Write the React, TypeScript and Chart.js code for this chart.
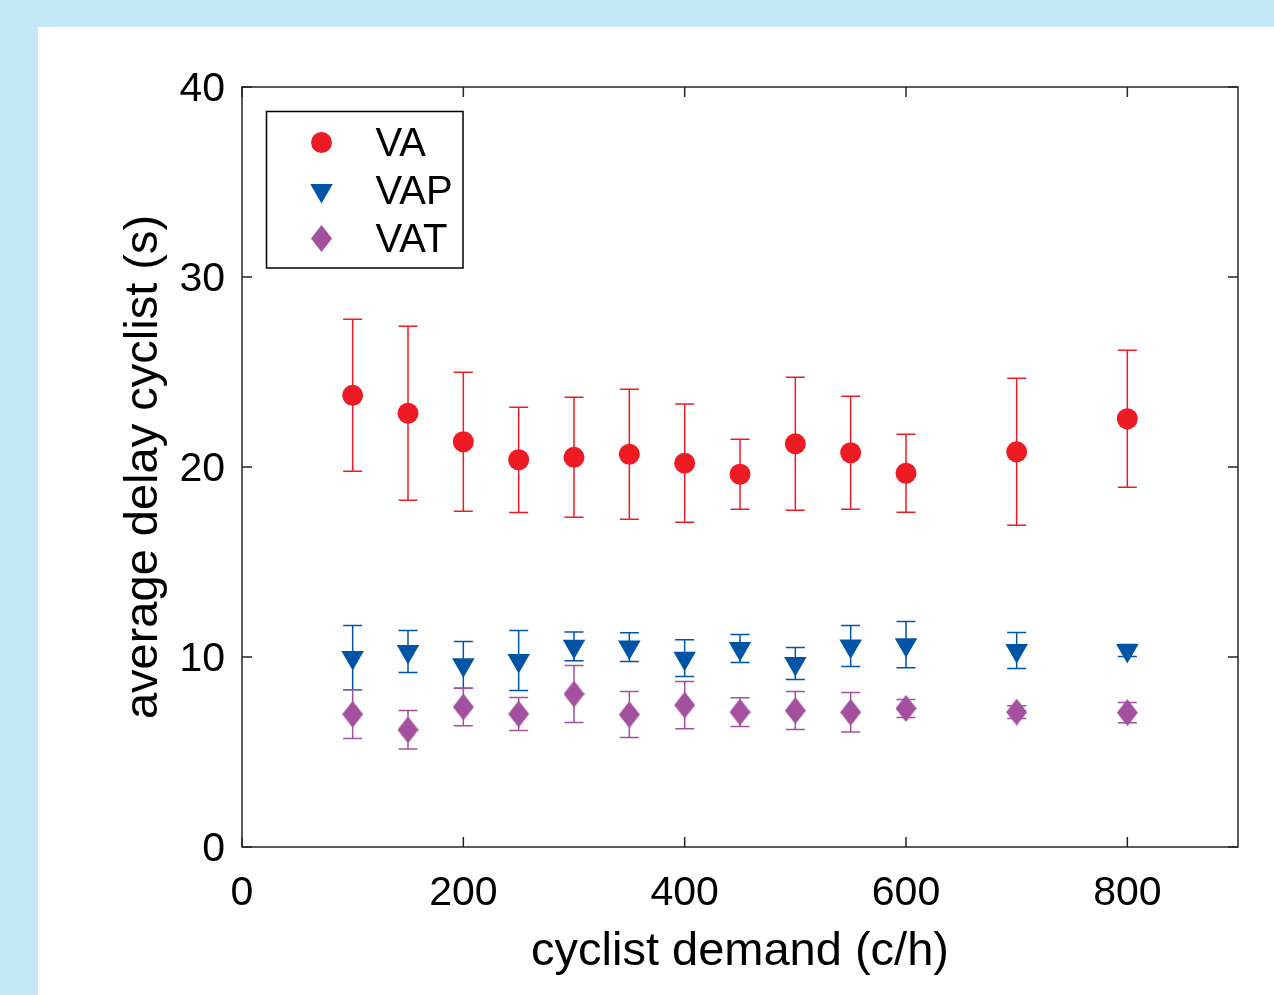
import React, { useEffect, useRef } from "react";
import { Chart, registerables } from "chart.js";

Chart.register(...registerables);

// ---------------- data ----------------
const demand = [100, 150, 200, 250, 300, 350, 400, 450, 500, 550, 600, 700, 800];

const vaMean = [23.77, 22.83, 21.33, 20.38, 20.51, 20.67, 20.2, 19.62, 21.22, 20.75, 19.67, 20.8, 22.54];
const vaErr = [4.0, 4.58, 3.66, 2.77, 3.16, 3.42, 3.11, 1.84, 3.5, 2.98, 2.05, 3.87, 3.61];

const vapMean = [9.97, 10.29, 9.59, 9.82, 10.56, 10.52, 9.94, 10.45, 9.66, 10.58, 10.65, 10.34, 10.34];
const vapErr = [1.69, 1.11, 1.23, 1.58, 0.76, 0.76, 0.97, 0.74, 0.84, 1.08, 1.22, 0.95, 0.32];

const vatMean = [6.99, 6.17, 7.37, 7.0, 8.05, 6.97, 7.47, 7.1, 7.18, 7.09, 7.29, 7.1, 7.07];
const vatErr = [1.28, 1.01, 0.99, 0.87, 1.5, 1.21, 1.24, 0.76, 1.0, 1.04, 0.47, 0.34, 0.53];

const seriesLabels = ["VA", "VAP", "VAT"];
const xAxisTitle = "cyclist demand (c/h)";
const yAxisTitle = "average delay cyclist (s)";

// ---------------- styles ----------------
const RED = "#ed1c24";
const BLUE = "#0054a6";
const PURPLE = "#a3519f";
const AXIS = "#262626";
const FONT = "'Liberation Sans', Arial, Helvetica, sans-serif";

function makeDiamond(color: string, w: number, h: number) {
  const c = document.createElement("canvas");
  c.width = w;
  c.height = h;
  const g = c.getContext("2d")!;
  g.fillStyle = color;
  g.beginPath();
  g.moveTo(w / 2, 0);
  g.lineTo(w, h / 2);
  g.lineTo(w / 2, h);
  g.lineTo(0, h / 2);
  g.closePath();
  g.fill();
  return c;
}

function drawMarker(ctx: CanvasRenderingContext2D, kind: string, x: number, y: number, color: string, diamond?: HTMLCanvasElement) {
  ctx.save();
  ctx.fillStyle = color;
  if (kind === "circle") {
    ctx.beginPath();
    ctx.arc(x, y, 10.5, 0, Math.PI * 2);
    ctx.fill();
  } else if (kind === "tri") {
    const r = 13;
    ctx.beginPath();
    ctx.moveTo(x, y + r);
    ctx.lineTo(x - r * Math.sin(Math.PI / 3), y - r / 2);
    ctx.lineTo(x + r * Math.sin(Math.PI / 3), y - r / 2);
    ctx.closePath();
    ctx.fill();
  } else if (diamond) {
    ctx.drawImage(diamond, x - diamond.width / 2, y - diamond.height / 2);
  }
  ctx.restore();
}

export default function App() {
  const ref = useRef<HTMLCanvasElement | null>(null);

  useEffect(() => {
    if (!ref.current) return;
    const diamond = makeDiamond(PURPLE, 21, 27);

    const errorBars = {
      id: "errorBars",
      beforeDatasetsDraw(chart: any) {
        const { ctx } = chart;
        const xs = chart.scales.x;
        const ys = chart.scales.y;
        ctx.save();
        chart.data.datasets.forEach((ds: any) => {
          const errs: number[] = ds.errors;
          if (!errs) return;
          ctx.strokeStyle = ds.errorColor;
          ctx.lineWidth = 1.5;
          ds.data.forEach((p: any, i: number) => {
            const px = xs.getPixelForValue(p.x);
            const top = ys.getPixelForValue(p.y + errs[i]);
            const bot = ys.getPixelForValue(p.y - errs[i]);
            ctx.beginPath();
            ctx.moveTo(px, top);
            ctx.lineTo(px, bot);
            ctx.moveTo(px - 9.5, top);
            ctx.lineTo(px + 9.5, top);
            ctx.moveTo(px - 9.5, bot);
            ctx.lineTo(px + 9.5, bot);
            ctx.stroke();
          });
        });
        ctx.restore();
      },
    };

    const frame = {
      id: "frame",
      afterDraw(chart: any) {
        const { ctx, chartArea: a } = chart;
        const xs = chart.scales.x;
        const ys = chart.scales.y;
        ctx.save();
        ctx.strokeStyle = AXIS;
        ctx.lineWidth = 1.5;
        ctx.strokeRect(a.left, a.top, a.right - a.left, a.bottom - a.top);
        const tl = 10;
        ctx.beginPath();
        xs.ticks.forEach((t: any) => {
          const px = xs.getPixelForValue(t.value);
          ctx.moveTo(px, a.bottom);
          ctx.lineTo(px, a.bottom - tl);
          ctx.moveTo(px, a.top);
          ctx.lineTo(px, a.top + tl);
        });
        ys.ticks.forEach((t: any) => {
          const py = ys.getPixelForValue(t.value);
          ctx.moveTo(a.left, py);
          ctx.lineTo(a.left + tl, py);
          ctx.moveTo(a.right, py);
          ctx.lineTo(a.right - tl, py);
        });
        ctx.stroke();

        // legend box
        const bx = a.left + 24.5;
        const by = a.top + 24.5;
        const bw = 196.5;
        const bh = 156.5;
        ctx.fillStyle = "#fff";
        ctx.fillRect(bx, by, bw, bh);
        ctx.strokeStyle = "#000";
        ctx.lineWidth = 1.5;
        ctx.strokeRect(bx, by, bw, bh);
        const kinds = ["circle", "tri", "diamond"];
        const colors = [RED, BLUE, PURPLE];
        const rows = [31, 79, 127];
        ctx.font = `40px ${FONT}`;
        ctx.textBaseline = "middle";
        ctx.textAlign = "left";
        seriesLabels.forEach((lab, i) => {
          drawMarker(ctx, kinds[i], bx + 55, by + rows[i], colors[i], diamond);
          ctx.fillStyle = "#000";
          ctx.fillText(lab, bx + 109, by + rows[i] + 2);
        });
        ctx.restore();
      },
    };

    const toPts = (m: number[]) => m.map((v, i) => ({ x: demand[i], y: v }));

    const chart = new Chart(ref.current, {
      type: "scatter",
      data: {
        datasets: [
          {
            label: seriesLabels[0],
            data: toPts(vaMean),
            errors: vaErr,
            errorColor: RED,
            pointStyle: "circle",
            pointRadius: 10.5,
            pointBorderWidth: 0,
            backgroundColor: RED,
            borderColor: RED,
          } as any,
          {
            label: seriesLabels[1],
            data: toPts(vapMean),
            errors: vapErr,
            errorColor: BLUE,
            pointStyle: "triangle",
            pointRotation: 180,
            pointRadius: 13,
            pointBorderWidth: 0,
            backgroundColor: BLUE,
            borderColor: BLUE,
          } as any,
          {
            label: seriesLabels[2],
            data: toPts(vatMean),
            errors: vatErr,
            errorColor: PURPLE,
            pointStyle: diamond,
            pointRadius: 13,
            pointBorderWidth: 0,
            backgroundColor: PURPLE,
            borderColor: PURPLE,
          } as any,
        ],
      },
      options: {
        animation: false,
        responsive: false,
        devicePixelRatio: 1,
        layout: { padding: { left: 0, right: 36, top: 60, bottom: 0 } },
        plugins: { legend: { display: false }, tooltip: { enabled: false } },
        scales: {
          x: {
            type: "linear",
            min: 0,
            max: 900,
            grid: { display: false, drawTicks: false },
            border: { display: false },
            ticks: {
              stepSize: 200,
              includeBounds: false,
              padding: 22,
              color: "#000",
              font: { family: FONT, size: 41, lineHeight: 1.2 },
              maxRotation: 0,
            },
            title: {
              display: true,
              text: xAxisTitle,
              color: "#000",
              font: { family: FONT, size: 47, lineHeight: 1.2 },
              padding: { top: 0, bottom: 15 },
            },
            afterFit: (s: any) => {
              s.height = 148;
            },
          },
          y: {
            type: "linear",
            min: 0,
            max: 40,
            grid: { display: false, drawTicks: false },
            border: { display: false },
            ticks: {
              stepSize: 10,
              padding: 17,
              labelOffset: 3,
              color: "#000",
              font: { family: FONT, size: 41, lineHeight: 1.2 },
            },
            title: {
              display: true,
              text: yAxisTitle,
              color: "#000",
              font: { family: FONT, size: 47, lineHeight: 1.2 },
              padding: { top: 78, bottom: 0 },
            },
            afterFit: (s: any) => {
              s.width = 204;
            },
          },
        },
      } as any,
      plugins: [errorBars, frame],
    });
    return () => chart.destroy();
  }, []);

  return (
    <div
      style={{
        position: "fixed",
        left: 0,
        top: 0,
        width: 1274,
        height: 995,
        background: "#c5e8f7",
        overflow: "hidden",
      }}
    >
      <div
        style={{
          position: "absolute",
          left: 38,
          top: 27,
          width: 1236,
          height: 968,
          background: "#ffffff",
        }}
      >
        <canvas ref={ref} width={1236} height={968} style={{ display: "block", width: 1236, height: 968 }} />
      </div>
    </div>
  );
}
